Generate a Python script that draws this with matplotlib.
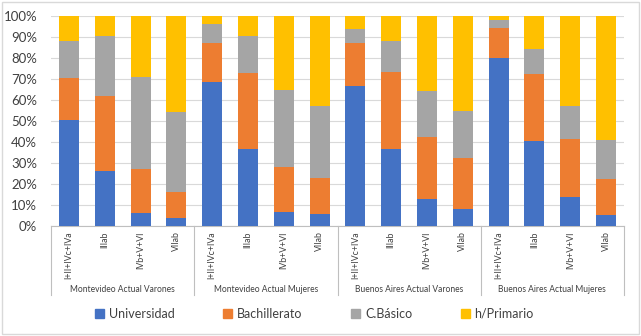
import matplotlib
matplotlib.use("Agg")
import matplotlib.pyplot as plt
from matplotlib.patches import Rectangle
from matplotlib.lines import Line2D
import numpy as np

plt.rcParams['font.family'] = ['Lato', 'DejaVu Sans']

groups = ["Montevideo Actual Varones", "Montevideo Actual Mujeres",
          "Buenos Aires Actual Varones", "Buenos Aires Actual Mujeres"]
categories = ["I+II+IVc+IVa", "IIIab", "IVb+V+VI", "VIIab"]
series_names = ["Universidad", "Bachillerato", "C.Básico", "h/Primario"]

universidad  = [50.5, 26.2, 6.0, 4.0,   68.7, 36.7, 6.5, 5.7,   66.7, 36.5, 12.7, 8.1,   80.2, 40.5, 14.0, 5.2]
bachillerato = [19.8, 35.5, 21.0, 12.3, 18.3, 36.0, 21.8, 17.3, 20.6, 37.0, 29.8, 24.3, 13.9, 31.9, 27.4, 17.3]
cbasico      = [17.6, 28.8, 43.8, 37.8, 9.2, 17.8, 36.5, 34.1,  6.5, 14.4, 21.8, 22.4,  4.0, 11.9, 15.9, 18.5]
primario     = [12.1, 9.5, 29.2, 45.9,  3.8, 9.5, 35.2, 42.9,   6.2, 12.1, 35.7, 45.2,  1.9, 15.7, 42.7, 59.0]

colors = ["#4472C4", "#ED7D31", "#A5A5A5", "#FFC000"]

W, H = 641, 336
fig = plt.figure(figsize=(W/100, H/100), dpi=100)
fig.patches.append(Rectangle((2/W, 2/H), 1-4/W, 1-4/H, transform=fig.transFigure,
                             fill=False, edgecolor="#D9D9D9", linewidth=1))

ax = fig.add_axes([51/W, 1-226/H, 573/W, 210/H])
series = [universidad, bachillerato, cbasico, primario]
data = np.array(series)
totals = data.sum(axis=0)
pct = data / totals * 100
x = np.arange(len(groups) * len(categories))
bottom = np.zeros(len(x))
for vals, c, name in zip(pct, colors, series_names):
    ax.bar(x, vals, bottom=bottom, width=0.56, color=c, label=name, zorder=3)
    bottom += vals

ax.set_xlim(-0.5, len(x) - 0.5)
ax.set_ylim(0, 100)
ax.set_yticks(np.arange(0, 101, 10))
ax.set_yticklabels([f"{v}%" for v in range(0, 101, 10)], fontsize=9.5, color="#404040")
ax.yaxis.grid(True, color="#D9D9D9", linewidth=0.8, zorder=0)
ax.tick_params(axis='y', length=0, pad=10)
for s in ["left", "right", "top"]:
    ax.spines[s].set_visible(False)
ax.spines["bottom"].set_color("#BFBFBF")

ax.set_xticks(x)
ax.set_xticklabels(categories * len(groups), rotation=90, fontsize=6.3, color="#404040", va="top")
ax.tick_params(axis='x', length=0, pad=4)

n = len(categories)
sep_bottom = -69 / 210
for gi in range(len(groups) + 1):
    xs = gi * n - 0.5
    ax.add_line(Line2D([xs, xs], [0, sep_bottom * 100], color="#BFBFBF", linewidth=0.8,
                       clip_on=False, transform=ax.transData))
for gi, g in enumerate(groups):
    ax.text(gi * n + (n - 1) / 2, -64 / 210 * 100, g, ha="center", va="center",
            fontsize=6.15, color="#404040", clip_on=False)

handles = [Rectangle((0, 0), 1, 1, color=c) for c in colors]
leg = fig.legend(handles, series_names, loc="center", bbox_to_anchor=(0.4906, 1 - 314/H),
                 ncol=4, frameon=False, fontsize=9, handlelength=0.7, handleheight=0.7,
                 handletextpad=0.4, columnspacing=3.9, labelcolor="#404040")

fig.savefig("out.png", dpi=100)
